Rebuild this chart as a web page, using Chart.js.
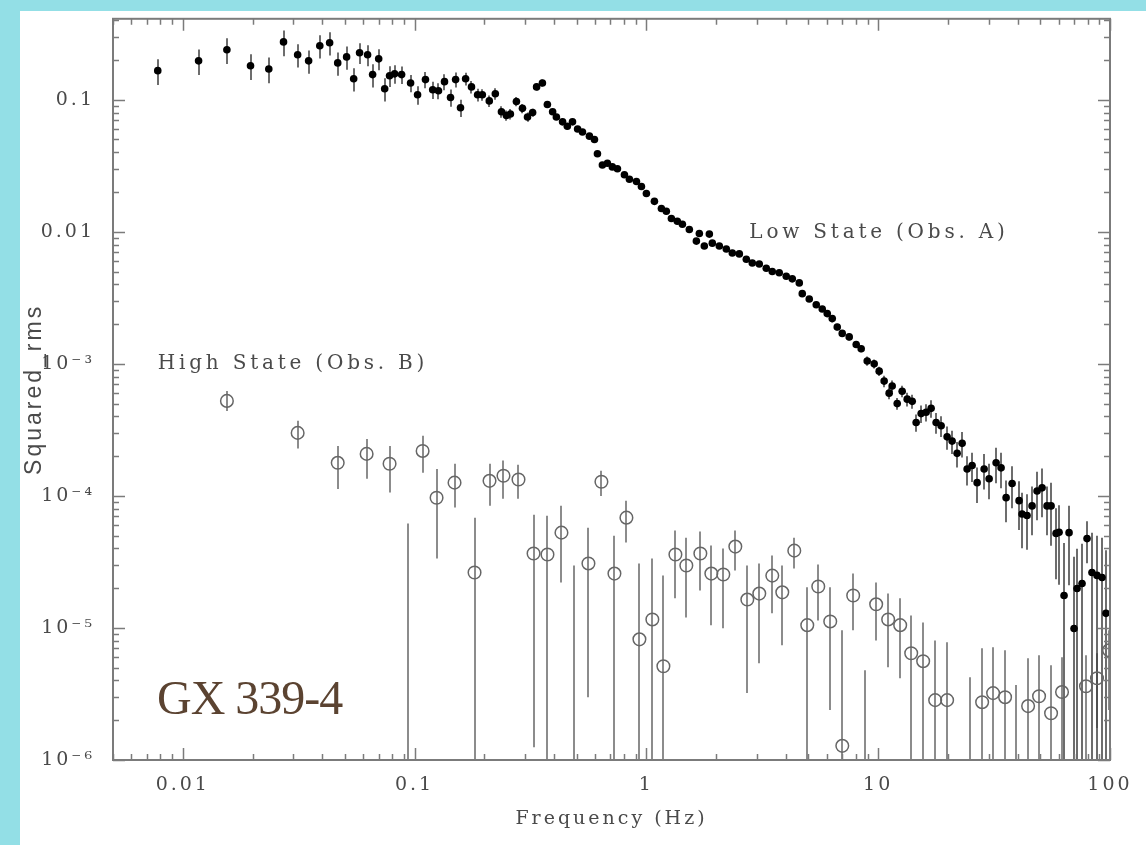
<!DOCTYPE html>
<html>
<head>
<meta charset="utf-8">
<script src="https://cdn.jsdelivr.net/npm/chart.js@4.4.1/dist/chart.umd.min.js"></script>
<style>
  html, body { margin: 0; padding: 0; }
  body { width: 1146px; height: 845px; background: #93dfe6; position: relative; overflow: hidden; }
  #panel { position: absolute; left: 20px; top: 11px; width: 1126px; height: 834px; background: #fff; }
  #chart { position: absolute; left: 0; top: 0; }
  #source { position: absolute; left: 137px; top: 663px; font-family: 'Liberation Serif', serif; font-size: 48px; line-height: 1; color: #5b4331; letter-spacing: -1px; }
</style>
</head>
<body>
<div id="panel">
  <canvas id="chart" width="1126" height="834"></canvas>
  <div id="source">GX 339-4</div>
</div>
<script>
// Low state (Obs. A): frequency (Hz), squared rms, relative 1-sigma error
const freqLow = [
  0.0078, 0.0117, 0.0155, 0.0196, 0.0235, 0.0272, 0.0313, 0.0349, 0.039, 0.043,
  0.0466, 0.0509, 0.0546, 0.0579, 0.0627, 0.0659, 0.07, 0.0743, 0.078, 0.082,
  0.0879, 0.0961, 0.103, 0.1114, 0.1197, 0.1268, 0.1346, 0.1429, 0.1503, 0.1578,
  0.166, 0.176, 0.187, 0.196, 0.21, 0.223, 0.237, 0.249, 0.259, 0.275,
  0.292, 0.307, 0.323, 0.336, 0.356, 0.374, 0.394, 0.409, 0.435, 0.456,
  0.48, 0.505, 0.53, 0.568, 0.597, 0.615, 0.646, 0.679, 0.713, 0.75,
  0.804, 0.845, 0.906, 0.952, 1.0, 1.083, 1.161, 1.219, 1.282, 1.36,
  1.43, 1.532, 1.643, 1.692, 1.778, 1.869, 1.925, 2.064, 2.212, 2.348,
  2.517, 2.698, 2.863, 3.069, 3.29, 3.492, 3.743, 4.012, 4.26, 4.566,
  4.704, 5.042, 5.405, 5.737, 6.029, 6.336, 6.658, 6.996, 7.499, 8.038,
  8.447, 8.966, 9.61, 10.1, 10.61, 11.15, 11.49, 12.08, 12.69, 13.34,
  14.02, 14.58, 15.32, 16.1, 16.92, 17.78, 18.69, 19.83, 20.84, 21.9,
  23.02, 24.19, 25.42, 26.72, 28.64, 30.1, 32.26, 33.9, 35.63, 37.82,
  40.53, 41.75, 43.87, 46.11, 48.46, 50.93, 53.52, 55.69, 58.53, 60.3,
  63.36, 66.58, 69.96, 72.08, 75.75, 79.6, 83.6, 87.9, 92.4, 96.1
];
const rmsLow = [
  0.166, 0.197, 0.239, 0.181, 0.171, 0.274, 0.219, 0.197, 0.256, 0.27,
  0.19, 0.211, 0.144, 0.227, 0.219, 0.155, 0.204, 0.121, 0.152, 0.157,
  0.155, 0.134, 0.109, 0.142, 0.119, 0.117, 0.137, 0.104, 0.142, 0.087,
  0.144, 0.125, 0.109, 0.109, 0.098, 0.111, 0.081, 0.076, 0.078, 0.097,
  0.086, 0.074, 0.08, 0.125, 0.134, 0.092, 0.081, 0.074, 0.068, 0.063,
  0.068, 0.06, 0.057, 0.053, 0.05, 0.039, 0.032, 0.033, 0.031, 0.03,
  0.027, 0.025, 0.024, 0.022, 0.0195, 0.017, 0.015, 0.0143, 0.0126, 0.012,
  0.0114, 0.0104, 0.0085, 0.0097, 0.0078, 0.0096, 0.0082, 0.0078, 0.0074, 0.0069,
  0.0068, 0.0062, 0.0058, 0.0057, 0.0053, 0.005, 0.0049, 0.0046, 0.0044, 0.0041,
  0.0034, 0.0031, 0.0028, 0.0026, 0.0024, 0.0022, 0.0019, 0.0017, 0.0016, 0.0014,
  0.0013, 0.00105, 0.001, 0.00088, 0.00074, 0.0006, 0.00068, 0.0005, 0.00062, 0.00054,
  0.00052, 0.00036, 0.00042, 0.00043, 0.00046, 0.00036, 0.00034, 0.00028, 0.00026, 0.00021,
  0.00025, 0.00016, 0.00017, 0.000126, 0.00016, 0.000135, 0.000178, 0.000163, 0.000097, 0.000124,
  0.000092, 0.000073, 0.000071, 0.000084, 0.000109, 0.000115, 0.000084, 0.000084, 0.000052, 0.000053,
  0.0000176, 0.0000527, 0.0000099, 0.0000199, 0.0000217, 0.0000475, 0.0000263, 0.000025, 0.0000241, 0.0000129
];
const errLow = [
  0.22, 0.22, 0.22, 0.22, 0.22, 0.22, 0.2, 0.2, 0.2, 0.2,
  0.2, 0.2, 0.2, 0.18, 0.18, 0.2, 0.18, 0.2, 0.18, 0.16,
  0.15, 0.15, 0.16, 0.14, 0.15, 0.14, 0.14, 0.15, 0.13, 0.15,
  0.11, 0.11, 0.11, 0.1, 0.1, 0.1, 0.1, 0.09, 0.09, 0.08,
  0.08, 0.08, 0.07, 0.06, 0.06, 0.05, 0.05, 0.05, 0.05, 0.05,
  0.05, 0.05, 0.05, 0.05, 0.05, 0.05, 0.05, 0.05, 0.05, 0.05,
  0.05, 0.05, 0.05, 0.05, 0.05, 0.05, 0.05, 0.05, 0.05, 0.05,
  0.04, 0.04, 0.04, 0.04, 0.04, 0.04, 0.04, 0.04, 0.04, 0.04,
  0.04, 0.04, 0.04, 0.04, 0.04, 0.04, 0.04, 0.04, 0.04, 0.04,
  0.04, 0.04, 0.04, 0.04, 0.04, 0.06, 0.06, 0.06, 0.06, 0.06,
  0.06, 0.08, 0.08, 0.08, 0.1, 0.1, 0.1, 0.1, 0.1, 0.12,
  0.12, 0.15, 0.15, 0.15, 0.15, 0.18, 0.18, 0.2, 0.2, 0.22,
  0.22, 0.25, 0.25, 0.3, 0.3, 0.3, 0.3, 0.3, 0.35, 0.35,
  0.4, 0.45, 0.45, 0.4, 0.4, 0.4, 0.4, 0.5, 0.55, 0.6,
  1.5, 0.6, 2.5, 1.0, 1.0, 0.35, 1.0, 1.0, 1.0, 2.0
];

// High state (Obs. B): frequency, squared rms, error bar top and bottom (0 = down to the axis)
const freqHigh = [
  0.0155, 0.0313, 0.0466, 0.0621, 0.078, 0.0933, 0.1083, 0.1244, 0.1487, 0.1814,
  0.2105, 0.2418, 0.2807, 0.326, 0.3743, 0.4301, 0.4894, 0.5623, 0.6397, 0.728,
  0.82, 0.933, 1.061, 1.184, 1.334, 1.487, 1.709, 1.906, 2.147, 2.419,
  2.725, 3.069, 3.492, 3.857, 4.345, 4.943, 5.514, 6.21, 7.0, 7.8,
  8.79, 9.8, 11.04, 12.44, 13.88, 15.63, 17.61, 19.83, 24.93, 28.08,
  31.31, 35.27, 39.34, 44.33, 49.43, 55.69, 62.1, 78.8, 87.9, 99.0
];
const rmsHigh = [
  5.24e-4, 3.0e-4, 1.78e-4, 2.08e-4, 1.75e-4, 5e-7, 2.19e-4, 9.68e-5, 1.26e-4, 2.63e-5,
  1.3e-4, 1.42e-4, 1.33e-4, 3.66e-5, 3.6e-5, 5.27e-5, 5e-7, 3.08e-5, 1.28e-4, 2.58e-5,
  6.84e-5, 8.2e-6, 1.16e-5, 5.13e-6, 3.6e-5, 2.97e-5, 3.66e-5, 2.58e-5, 2.54e-5, 4.13e-5,
  1.64e-5, 1.82e-5, 2.49e-5, 1.86e-5, 3.85e-5, 1.05e-5, 2.06e-5, 1.12e-5, 1.28e-6, 1.76e-5,
  5e-7, 1.51e-5, 1.16e-5, 1.05e-5, 6.43e-6, 5.6e-6, 2.84e-6, 2.84e-6, 5e-7, 2.74e-6,
  3.21e-6, 2.99e-6, 5e-7, 2.56e-6, 3.04e-6, 2.26e-6, 3.27e-6, 3.62e-6, 4.16e-6, 6.77e-6
];
const upHigh = [
  6.24e-4, 3.7e-4, 2.39e-4, 2.7e-4, 2.39e-4, 6.17e-5, 2.85e-4, 1.6e-4, 1.75e-4, 6.84e-5,
  1.75e-4, 1.85e-4, 1.72e-4, 7.21e-5, 7.08e-5, 8.43e-5, 2.97e-5, 5.75e-5, 1.55e-4, 5.0e-5,
  9.2e-5, 3.08e-5, 3.36e-5, 2.49e-5, 5.46e-5, 4.83e-5, 5.37e-5, 4.21e-5, 3.99e-5, 5.46e-5,
  2.97e-5, 3.08e-5, 3.53e-5, 2.97e-5, 4.83e-5, 2.03e-5, 3.02e-5, 2.03e-5, 9.59e-6, 2.58e-5,
  4.79e-6, 2.21e-5, 1.82e-5, 1.68e-5, 1.24e-5, 1.1e-5, 8.05e-6, 7.78e-6, 4.24e-6, 7.01e-6,
  7.13e-6, 6.77e-6, 3.69e-6, 5.89e-6, 6.21e-6, 5.21e-6, 6.0e-6, 6.21e-6, 6.43e-6, 9.59e-6
];
const loHigh = [
  4.4e-4, 2.28e-4, 1.13e-4, 1.35e-4, 1.06e-4, 0, 1.5e-4, 3.36e-5, 8.15e-5, 0,
  8.43e-5, 9.53e-5, 9.53e-5, 1.25e-6, 0, 2.21e-5, 0, 2.99e-6, 1.0e-4, 0,
  4.44e-5, 0, 0, 0, 1.68e-5, 1.2e-5, 1.92e-5, 1.05e-5, 9.93e-6, 2.72e-5,
  3.21e-6, 5.41e-6, 1.29e-5, 7.4e-6, 2.82e-5, 0, 1.14e-5, 2.39e-6, 0, 9.59e-6,
  0, 8.05e-6, 5.04e-6, 4.16e-6, 0, 0, 0, 0, 0, 0,
  0, 0, 0, 0, 0, 0, 0, 0, 1.75e-6, 2.39e-6
];

// axis ticks
const xTickValues = [0.01, 0.1, 1, 10, 100];
const xTickLabels = ['0.01', '0.1', '1', '10', '100'];
const yTickValues = [1e-6, 1e-5, 1e-4, 1e-3, 0.01, 0.1];
const yTickLabels = ['10\u207B\u2076', '10\u207B\u2075', '10\u207B\u2074', '10\u207B\u00B3', '0.01', '0.1'];

const textColor = '#4a4a4a';
const serif = 'DejaVu Serif';

// error bars, frame, inward ticks and the two labels
const decor = {
  id: 'decor',
  beforeDraw(chart) {
    chart.ctx.letterSpacing = '3px';
  },
  beforeDatasetsDraw(chart) {
    const { ctx, chartArea: a, scales: { x, y } } = chart;
    ctx.save();
    ctx.beginPath();
    ctx.rect(a.left, a.top, a.right - a.left, a.bottom - a.top);
    ctx.clip();
    ctx.lineCap = 'butt';

    ctx.strokeStyle = '#8c8c8c';
    ctx.lineWidth = 2;
    freqHigh.forEach((f, i) => {
      const px = Math.round(x.getPixelForValue(f));
      const top = y.getPixelForValue(upHigh[i]);
      const bot = loHigh[i] > 0 ? y.getPixelForValue(loHigh[i]) : a.bottom;
      ctx.beginPath();
      ctx.moveTo(px, top);
      ctx.lineTo(px, bot);
      ctx.stroke();
    });

    ctx.strokeStyle = 'rgba(60,60,60,0.75)';
    ctx.lineWidth = 2;
    freqLow.forEach((f, i) => {
      const v = rmsLow[i];
      const s = v * errLow[i];
      const px = Math.round(x.getPixelForValue(f));
      const top = y.getPixelForValue(v + s);
      const bot = v - s > 0 ? y.getPixelForValue(v - s) : a.bottom;
      ctx.beginPath();
      ctx.moveTo(px, top);
      ctx.lineTo(px, bot);
      ctx.stroke();
    });
    ctx.restore();
  },
  afterDraw(chart) {
    const { ctx, chartArea: a, scales: { x, y } } = chart;
    ctx.save();
    ctx.strokeStyle = '#7b7b7b';
    ctx.lineWidth = 2;
    ctx.strokeRect(a.left, a.top, a.right - a.left, a.bottom - a.top);

    ctx.lineWidth = 1.5;
    ctx.beginPath();
    for (let d = 0.001; d <= 100; d *= 10) {
      for (let m = 1; m <= 9; m++) {
        const v = d * m;
        if (v < x.min || v > x.max * 1.0001) continue;
        const px = Math.round(x.getPixelForValue(v)) + 0.5;
        const len = m === 1 ? 12 : 6;
        ctx.moveTo(px, a.bottom); ctx.lineTo(px, a.bottom - len);
        ctx.moveTo(px, a.top); ctx.lineTo(px, a.top + len);
      }
    }
    for (let d = 1e-6; d <= 1; d *= 10) {
      for (let m = 1; m <= 9; m++) {
        const v = d * m;
        if (v < y.min * 0.9999 || v > y.max) continue;
        const py = Math.round(y.getPixelForValue(v)) + 0.5;
        const len = m === 1 ? 12 : 6;
        ctx.moveTo(a.left, py); ctx.lineTo(a.left + len, py);
        ctx.moveTo(a.right, py); ctx.lineTo(a.right - len, py);
      }
    }
    ctx.stroke();

    ctx.fillStyle = textColor;
    ctx.font = '20px "' + serif + '"';
    ctx.letterSpacing = '3.8px';
    ctx.textAlign = 'left';
    ctx.textBaseline = 'middle';
    ctx.fillText('Low State (Obs. A)', x.getPixelForValue(2.78), y.getPixelForValue(0.0099));
    ctx.fillText('High State (Obs. B)', x.getPixelForValue(0.0078), y.getPixelForValue(0.001));
    ctx.restore();
  }
};

new Chart(document.getElementById('chart'), {
  type: 'scatter',
  data: {
    datasets: [
      {
        label: 'Low State (Obs. A)',
        data: freqLow.map((f, i) => ({ x: f, y: rmsLow[i] })),
        pointStyle: 'circle',
        pointRadius: 3.8,
        pointBackgroundColor: '#000',
        pointBorderWidth: 0
      },
      {
        label: 'High State (Obs. B)',
        data: freqHigh.map((f, i) => ({ x: f, y: rmsHigh[i] })),
        pointStyle: 'circle',
        pointRadius: 6.3,
        pointBackgroundColor: 'rgba(255,255,255,0)',
        pointBorderColor: '#666',
        pointBorderWidth: 1.5
      }
    ]
  },
  options: {
    responsive: false,
    devicePixelRatio: 1,
    animation: false,
    layout: { padding: { left: 0, top: 6, right: 36, bottom: 0 } },
    plugins: { legend: { display: false }, tooltip: { enabled: false } },
    scales: {
      x: {
        type: 'logarithmic',
        min: 0.005,
        max: 100,
        afterBuildTicks: s => { s.ticks = xTickValues.map(v => ({ value: v })); },
        afterFit: s => { s.height = 85; s.paddingLeft = 0; s.paddingRight = 0; },
        grid: { display: false, drawTicks: false },
        border: { display: false },
        ticks: {
          autoSkip: false, maxRotation: 0, padding: 14, color: textColor,
          font: { family: serif, size: 19 },
          callback: (v, i) => xTickLabels[i]
        },
        title: {
          display: true, text: 'Frequency (Hz)', color: textColor,
          font: { family: serif, size: 19 }, padding: { top: 0, bottom: 15 }
        }
      },
      y: {
        type: 'logarithmic',
        min: 1e-6,
        max: 0.41,
        afterBuildTicks: s => { s.ticks = yTickValues.map(v => ({ value: v })); },
        afterFit: s => { s.width = 93; s.paddingTop = 0; s.paddingBottom = 0; },
        grid: { display: false, drawTicks: false },
        border: { display: false },
        ticks: {
          autoSkip: false, padding: 18, color: textColor,
          font: { family: serif, size: 19 },
          callback: (v, i) => yTickLabels[i]
        },
        title: {
          display: true, text: 'Squared_rms', color: textColor,
          font: { family: 'Liberation Sans', size: 23 }, padding: { top: 1, bottom: 0 }
        }
      }
    }
  },
  plugins: [decor]
});
</script>
</body>
</html>
